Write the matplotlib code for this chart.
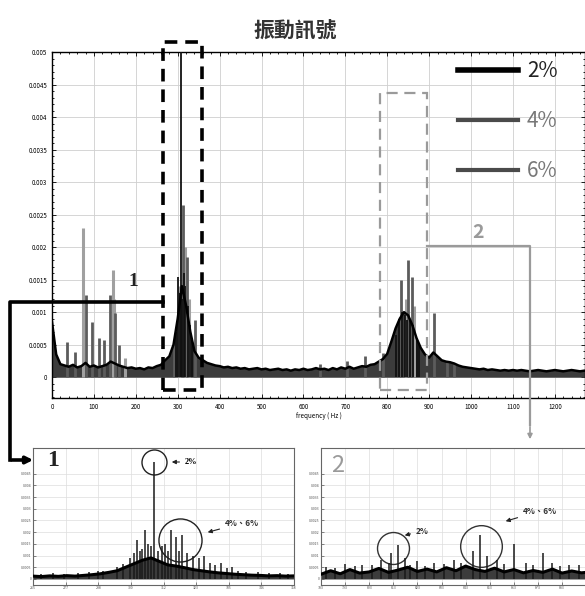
import numpy as np
import matplotlib.pyplot as plt
from matplotlib.lines import Line2D
from matplotlib.patches import Rectangle, FancyArrowPatch
from matplotlib.ticker import MultipleLocator

plt.rcParams['font.family'] = ['Noto Sans CJK TC', 'DejaVu Sans']

W, H = 585, 596

# ---- main spectrum (amplitudes in 1e-4) ----
# noise floor of the 2% signal, every 10 Hz from 0 to 1280 Hz
floor_freq = list(range(0, 1290, 10))
floor_amp = [8.5, 3.5, 2.0, 1.8, 1.6, 1.9, 1.5, 1.7, 2.2, 1.6,
             1.8, 1.5, 1.7, 1.9, 2.4, 2.1, 1.8, 1.6, 1.4, 1.5,
             1.3, 1.4, 1.2, 1.5, 1.4, 1.7, 1.9, 2.6, 3.2, 5.0,
             9.0, 14.0, 11.0, 7.0, 4.0, 3.0, 2.6, 2.2, 2.0, 1.8,
             1.7, 1.5, 1.6, 1.4, 1.5, 1.3, 1.4, 1.2, 1.3, 1.4,
             1.2, 1.3, 1.1, 1.2, 1.3, 1.1, 1.2, 1.0, 1.2, 1.1,
             1.3, 1.1, 1.2, 1.4, 1.2, 1.3, 1.1, 1.4, 1.2, 1.5,
             1.3, 1.6, 1.3, 1.5, 1.7, 1.6, 1.9, 2.0, 2.4, 2.8,
             3.6, 5.5, 7.5, 9.0, 10.0, 9.5, 8.0, 6.0, 4.5, 3.5,
             3.0, 3.8, 3.2, 2.6, 2.4, 2.3, 2.1, 1.8, 1.6, 1.5,
             1.4, 1.3, 1.2, 1.3, 1.1, 1.2, 1.1, 1.0, 1.1, 1.0,
             1.1, 1.0, 1.1, 1.0, 0.9, 1.0, 1.1, 1.0, 0.9, 1.0,
             1.1, 1.0, 0.9, 1.0, 1.1, 1.0, 0.9, 1.0, 1.0]

# spectral peaks per damage level
p2_freq = [296, 300, 305, 308, 310, 315, 318, 325, 330, 335,
           820, 828, 835, 842, 848, 855, 862, 870, 876]
p2_amp = [7.0, 15.4, 13.0, 50.0, 12.0, 16.0, 14.0, 11.0, 8.0, 6.0,
          6.5, 9.0, 10.0, 9.5, 8.8, 9.0, 8.0, 6.0, 5.0]

p4_freq = [35, 55, 80, 95, 112, 125, 138, 150, 160, 292,
           313, 321, 341, 640, 703, 747, 790, 832, 850, 858,
           912, 942, 960]
p4_amp = [5.4, 3.9, 12.6, 8.5, 6.0, 5.7, 12.6, 9.8, 5.0, 5.0,
          26.5, 18.5, 8.8, 2.0, 2.5, 3.3, 3.7, 14.9, 18.0, 15.4,
          9.8, 2.3, 2.0]

p6_freq = [73, 145, 148, 175, 304, 318, 326, 845, 865]
p6_amp = [23.0, 16.5, 12.0, 3.0, 14.0, 20.0, 12.0, 12.0, 11.0]

# ---- zoom 1 : 265-358 Hz ----
z1_freq = list(range(265, 359, 3))
z1_amp = [1.2, 1.0, 1.3, 1.1, 1.4, 1.2, 1.5, 1.8, 2.2, 2.8,
          3.5, 5.0, 6.5, 8.0, 9.0, 7.5, 6.0, 5.5, 4.8, 4.0,
          3.5, 3.0, 2.6, 2.3, 2.0, 1.8, 1.6, 1.5, 1.3, 1.4,
          1.2, 1.3]
z1_pk_freq = [268, 272, 276, 281, 285, 288, 290, 295, 297, 299.6,
              301, 302, 303, 304, 305, 306, 307, 308, 309.5, 311,
              312, 313, 314, 316, 317, 318, 320, 322, 324, 326,
              328, 330, 332, 334, 336, 338, 341, 345, 349, 353, 356]
z1_pk_amp = [2.2, 2.5, 2.0, 2.6, 3.0, 3.2, 3.5, 5.0, 6.5, 9.0,
             11.0, 16.7, 12.0, 13.0, 21.0, 15.0, 14.0, 50.0, 12.0, 14.0,
             15.0, 12.0, 21.0, 18.0, 12.0, 19.0, 11.0, 10.0, 9.0, 10.0,
             7.0, 6.0, 7.0, 4.5, 5.0, 3.5, 3.0, 2.8, 2.5, 2.4, 2.2]

# ---- zoom 2 : 783-895 Hz ----
z2_freq = list(range(783, 896, 4))
z2_amp = [2.0, 3.5, 2.2, 4.0, 2.5, 3.0, 4.5, 2.8, 3.8, 5.0,
          3.2, 4.2, 3.0, 4.8, 3.5, 5.5, 4.0, 3.2, 4.6, 3.0,
          4.0, 2.6, 3.6, 2.8, 4.2, 2.5, 3.4, 2.6, 3.0]
z2_pk_freq = [785, 789, 793, 797, 800, 804, 808, 811, 812, 815,
              818, 820, 823, 826, 830, 834, 838, 841, 846, 849,
              852, 856, 859, 863, 868, 871, 875, 879, 882, 886,
              890, 893]
z2_pk_amp = [5.0, 4.5, 6.5, 5.5, 6.0, 6.0, 8.0, 7.0, 11.0, 14.5,
             9.0, 6.0, 7.5, 5.5, 7.0, 6.5, 8.0, 7.0, 12.0, 19.0,
             10.0, 8.0, 6.5, 15.0, 7.0, 6.0, 11.0, 7.0, 5.5, 6.0,
             6.0, 5.0]

S = 1e-4


def fx(x):
    return x / W


def fy(y):
    return 1 - y / H


fig = plt.figure(figsize=(W / 100, H / 100), dpi=100)

# ---------------- main axes ----------------
ax = fig.add_axes([fx(52), fy(398), fx(585 - 52), (398 - 52) / H])
f = np.array(floor_freq)
a = np.array(floor_amp) * S
ax.fill_between(f, 0, a, color='#3c3c3c', lw=0, zorder=2)
ax.vlines(p6_freq, 0, np.array(p6_amp) * S, color='#a0a0a0', lw=2.2, zorder=3)
ax.vlines(p4_freq, 0, np.array(p4_amp) * S, color='#5c5c5c', lw=2.0, zorder=4)
ax.vlines(p2_freq, 0, np.array(p2_amp) * S, color='#111111', lw=1.3, zorder=5)
ax.plot(f, a, color='black', lw=1.8, zorder=6)

ax.set_xlim(0, 1272)
ax.set_ylim(-0.00032, 0.005)
ax.set_xticks(range(0, 1300, 100))
ax.set_yticks(np.arange(0, 0.00501, 0.0005))
ax.set_yticklabels(['0', '0.0005', '0.001', '0.0015', '0.002', '0.0025',
                    '0.003', '0.0035', '0.004', '0.0045', '0.005'])
ax.xaxis.set_minor_locator(MultipleLocator(20))
ax.yaxis.set_minor_locator(MultipleLocator(0.0001))
ax.tick_params(which='both', direction='in', top=True, right=True,
               labelsize=4.5, length=3, width=0.6)
ax.tick_params(which='minor', length=1.5)
ax.grid(True, color='#cfcfcf', lw=0.6)
ax.set_axisbelow(True)
for sp in ax.spines.values():
    sp.set_linewidth(1.0)
ax.set_xlabel('frequency ( Hz )', fontsize=4.5, labelpad=1)

# dashed boxes around the two regions
ax.add_patch(Rectangle((265, -0.0002), 93, 0.00535, fill=False,
                       ec='black', lw=2.6, ls=(0, (3.5, 2.2)), clip_on=False, zorder=8))
ax.add_patch(Rectangle((783, -0.0002), 112, 0.00457, fill=False,
                       ec='#9a9a9a', lw=1.6, ls=(0, (5, 3)), clip_on=False, zorder=8))

# legend
handles = [Line2D([], [], color='black', lw=4.0, label='2%'),
           Line2D([], [], color='#4a4a4a', lw=3.0, label='4%'),
           Line2D([], [], color='#4a4a4a', lw=3.0, label='6%')]
leg = ax.legend(handles=handles, loc='upper left', bbox_to_anchor=(fx(458), fy(60)),
                bbox_transform=fig.transFigure, frameon=False, fontsize=15,
                handlelength=2.9, handletextpad=0.4, labelspacing=1.35,
                borderpad=0, borderaxespad=0)
leg.get_texts()[0].set_color('#222222')
leg.get_texts()[1].set_color('#777777')
leg.get_texts()[2].set_color('#777777')

fig.text(fx(295), fy(30), '振動訊號', ha='center', va='center',
         fontsize=15, fontweight='bold', color='#333333')

# connectors
fig.add_artist(Line2D([fx(163), fx(10), fx(10)], [fy(302), fy(302), fy(460)],
                      transform=fig.transFigure, color='black', lw=2.6))
fig.add_artist(FancyArrowPatch((fx(9), fy(460)), (fx(36), fy(460)),
                               transform=fig.transFigure, arrowstyle='-|>',
                               mutation_scale=10, color='black', lw=2.6))
fig.add_artist(Line2D([fx(427), fx(530), fx(530)], [fy(246), fy(246), fy(425)],
                      transform=fig.transFigure, color='#9a9a9a', lw=1.6))
fig.add_artist(FancyArrowPatch((fx(530), fy(424)), (fx(530), fy(442)),
                               transform=fig.transFigure, arrowstyle='-|>',
                               mutation_scale=7, color='#9a9a9a', lw=1.2))
fig.text(fx(133), fy(282), '1', ha='center', va='center', fontsize=14,
         fontweight='bold', family='Liberation Serif', color='#222222')
fig.text(fx(478), fy(233), '2', ha='center', va='center', fontsize=14,
         fontweight='bold', color='#9a9a9a')


# ---------------- zoom insets ----------------
def inset(left, width, f_list, a_list, pk_f, pk_a, xticks, xlim):
    axi = fig.add_axes([fx(left), fy(585), fx(width), (585 - 448) / H])
    ff = np.array(f_list)
    aa = np.array(a_list) * S
    axi.fill_between(ff, 0, aa, color='#3c3c3c', lw=0, zorder=2)
    axi.vlines(pk_f, 0, np.array(pk_a) * S, color='#1a1a1a', lw=1.1, zorder=3)
    axi.plot(ff, aa, color='black', lw=2.2, zorder=4)
    axi.set_xlim(*xlim)
    axi.set_ylim(-0.00026, 0.0056)
    axi.set_xticks(xticks)
    axi.set_xticklabels([str(int(round(t))) for t in xticks])
    axi.set_yticks(np.arange(0, 0.00451, 0.0005))
    axi.set_yticklabels(['0', '0.0005', '0.001', '0.0015', '0.002', '0.0025',
                         '0.003', '0.0035', '0.004', '0.0045'])
    axi.tick_params(direction='in', labelsize=2.5, length=2, width=0.5,
                    colors='#555555', pad=1)
    axi.grid(True, color='#dddddd', lw=0.5)
    axi.set_axisbelow(True)
    for sp in axi.spines.values():
        sp.set_linewidth(0.8)
        sp.set_color('#666666')
    return axi


ax1 = inset(33, 261, z1_freq, z1_amp, z1_pk_freq, z1_pk_amp,
            np.linspace(265, 358, 9), (265, 358))
ax2 = inset(321, 270, z2_freq, z2_amp, z2_pk_freq, z2_pk_amp,
            list(range(783, 886, 10)), (783, 895))

# circles and notes in zoom 1
ax1.plot([308], [0.0050], 'o', ms=18, mfc='none', mec='#222222', mew=1.0, clip_on=False)
ax1.plot([317.4], [0.00167], 'o', ms=31, mfc='none', mec='#222222', mew=1.0, clip_on=False)
ax1.annotate('2%', xy=(fx(169), fy(462)), xytext=(fx(185), fy(462)),
             xycoords='figure fraction', textcoords='figure fraction',
             fontsize=6, fontweight='bold', family='Liberation Serif', va='center',
             arrowprops=dict(arrowstyle='-|>', color='#222222', lw=0.8, mutation_scale=6))
ax1.annotate('4%、6%', xy=(fx(205), fy(533)), xytext=(fx(225), fy(523)),
             xycoords='figure fraction', textcoords='figure fraction',
             fontsize=6, fontweight='bold', va='center', color='#333333',
             arrowprops=dict(arrowstyle='-|>', color='#222222', lw=0.8, mutation_scale=6))
fig.text(fx(53), fy(461), '1', ha='center', va='center', fontsize=17,
         fontweight='bold', family='Liberation Serif', color='#222222')

# circles and notes in zoom 2
ax2.plot([812.9], [0.00132], 'o', ms=23, mfc='none', mec='#333333', mew=1.0)
ax2.plot([849.4], [0.00141], 'o', ms=30, mfc='none', mec='#333333', mew=1.0)
ax2.annotate('2%', xy=(fx(402), fy(536)), xytext=(fx(416), fy(531)),
             xycoords='figure fraction', textcoords='figure fraction',
             fontsize=6, fontweight='bold', va='center', color='#333333',
             arrowprops=dict(arrowstyle='-|>', color='#222222', lw=0.8, mutation_scale=6))
ax2.annotate('4%、6%', xy=(fx(503), fy(522)), xytext=(fx(523), fy(511)),
             xycoords='figure fraction', textcoords='figure fraction',
             fontsize=6, fontweight='bold', va='center', color='#333333',
             arrowprops=dict(arrowstyle='-|>', color='#222222', lw=0.8, mutation_scale=6))
fig.text(fx(338), fy(466), '2', ha='center', va='center', fontsize=17,
         color='#9a9a9a')

fig.savefig('out.png', dpi=100)
